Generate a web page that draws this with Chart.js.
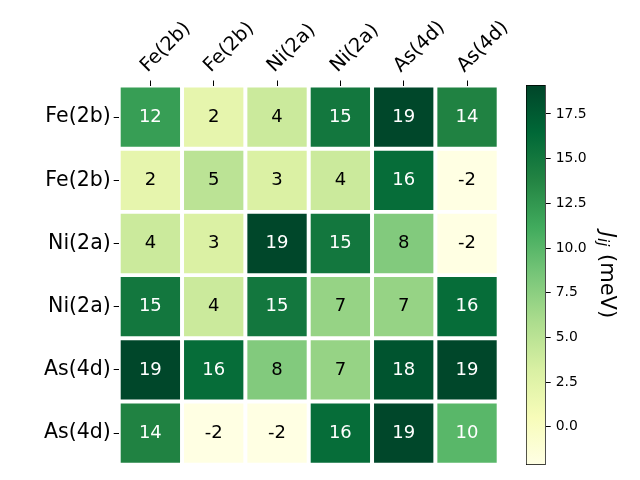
<!DOCTYPE html>
<html>
<head>
<meta charset="utf-8">
<script src="https://cdn.jsdelivr.net/npm/chart.js@4"></script>
<style>
  html, body { margin: 0; padding: 0; background: #fff; }
  #wrap { position: relative; width: 640px; height: 480px; overflow: hidden; }
  #heat { position: absolute; left: 0; top: 0; }
  #cbar { position: absolute; left: 500px; top: 0; }
</style>
</head>
<body>
<div id="wrap">
  <canvas id="heat" width="640" height="480"></canvas>
  <canvas id="cbar" width="140" height="480"></canvas>
</div>
<script>
// site labels (columns left->right, rows top->bottom)
const xLabels = ["Fe(2b)", "Fe(2b)", "Ni(2a)", "Ni(2a)", "As(4d)", "As(4d)"];
const yLabels = ["Fe(2b)", "Fe(2b)", "Ni(2a)", "Ni(2a)", "As(4d)", "As(4d)"];

// exchange couplings J_ij in meV, one array per row
const row0 = [12, 2, 4, 15, 19, 14];
const row1 = [2, 5, 3, 4, 16, -2];
const row2 = [4, 3, 19, 15, 8, -2];
const row3 = [15, 4, 15, 7, 7, 16];
const row4 = [19, 16, 8, 7, 18, 19];
const row5 = [14, -2, -2, 16, 19, 10];
const jRows = [row0, row1, row2, row3, row4, row5];

// colour scale limits and colorbar ticks
const vmin = -2.14;
const vmax = 19.12;
const cbTicks = [0, 2.5, 5, 7.5, 10, 12.5, 15, 17.5];

const YLGN = ["#ffffe5", "#f7fcb9", "#d9f0a3", "#addd8e", "#78c679",
              "#41ab5d", "#238443", "#006837", "#004529"];
const FONT = "'DejaVu Sans', sans-serif";

function hexRgb(h) {
  return [1, 3, 5].map((i) => parseInt(h.slice(i, i + 2), 16));
}

function ylgn(v) {
  let t = (v - vmin) / (vmax - vmin);
  t = Math.max(0, Math.min(1, t));
  const pos = t * (YLGN.length - 1);
  const i = Math.min(YLGN.length - 2, Math.floor(pos));
  const f = pos - i;
  const a = hexRgb(YLGN[i]);
  const b = hexRgb(YLGN[i + 1]);
  const c = a.map((x, k) => Math.round(x + (b[k] - x) * f));
  return `rgb(${c[0]},${c[1]},${c[2]})`;
}

const cells = [];
jRows.forEach((row, r) => {
  row.forEach((v, c) => cells.push({ x: c, y: r, v }));
});

// square cell side = one category step minus the white gap
function cellRadius(ctx) {
  const xs = ctx.chart.scales.x;
  if (!xs) return 20;
  const step = Math.abs(xs.getPixelForValue(1) - xs.getPixelForValue(0));
  return (step - 4) / (2 * Math.SQRT1_2);
}

const cellLabels = {
  id: "cellLabels",
  afterDatasetsDraw(chart) {
    const ctx = chart.ctx;
    const meta = chart.getDatasetMeta(0);
    ctx.save();
    ctx.font = `18px ${FONT}`;
    ctx.textAlign = "center";
    ctx.textBaseline = "middle";
    meta.data.forEach((el, i) => {
      const v = cells[i].v;
      const t = (v - vmin) / (vmax - vmin);
      ctx.fillStyle = t > 0.5 ? "#fff" : "#000";
      ctx.fillText(String(Math.round(v)), el.x, el.y);
    });
    ctx.restore();
  },
};

const fixedTicks = (vals) => (scale) => {
  scale.ticks = vals.map((v) => ({ value: v }));
};

new Chart(document.getElementById("heat"), {
  type: "scatter",
  data: {
    datasets: [{
      data: cells,
      pointStyle: "rect",
      pointRadius: cellRadius,
      pointHoverRadius: cellRadius,
      pointBorderWidth: 0,
      pointBackgroundColor: (ctx) => ylgn(ctx.raw ? ctx.raw.v : 0),
    }],
  },
  options: {
    responsive: false,
    animation: false,
    events: [],
    layout: { padding: { left: 0, right: 141.3, top: 0, bottom: 15 } },
    plugins: { legend: { display: false }, tooltip: { enabled: false } },
    scales: {
      x: {
        type: "linear",
        position: "top",
        min: -0.5,
        max: 5.5,
        afterBuildTicks: fixedTicks([0, 1, 2, 3, 4, 5]),
        afterFit(s) { s.height = 85.5; },
        border: { display: false },
        grid: { drawOnChartArea: false, drawTicks: true, tickLength: 5, tickColor: "#000", tickWidth: 1 },
        ticks: {
          autoSkip: false,
          minRotation: 45,
          maxRotation: 45,
          padding: 3,
          labelOffset: 10,
          color: "#000",
          font: { family: FONT, size: 19.4 },
          callback: (v) => xLabels[v] ?? "",
        },
      },
      y: {
        type: "linear",
        reverse: true,
        min: -0.5,
        max: 5.5,
        afterBuildTicks: fixedTicks([0, 1, 2, 3, 4, 5]),
        afterFit(s) { s.width = 118.7; },
        border: { display: false },
        grid: { drawOnChartArea: false, drawTicks: true, tickLength: 5, tickColor: "#000", tickWidth: 1 },
        ticks: {
          autoSkip: false,
          padding: 3,
          color: "#000",
          font: { family: FONT, size: 20.5 },
          callback: (v) => yLabels[v] ?? "",
        },
      },
    },
  },
  plugins: [cellLabels],
});

// colorbar label: italic J with subscript ij, then (meV)
const cbarTitle = {
  id: "cbarTitle",
  afterDraw(chart) {
    const ctx = chart.ctx;
    const area = chart.chartArea;
    const cx = area.right + 61;
    const cy = (area.top + area.bottom) / 2;
    const big = `21px ${FONT}`;
    const bigIt = `oblique 21px ${FONT}`;
    const small = `oblique 15px ${FONT}`;
    ctx.save();
    ctx.font = bigIt; const wJ = ctx.measureText("J").width;
    ctx.font = small; const wS = ctx.measureText("ij").width;
    ctx.font = big; const wM = ctx.measureText(" (meV)").width;
    const total = wJ + wS + 1 + wM;
    ctx.translate(cx, cy);
    ctx.rotate(Math.PI / 2);
    ctx.fillStyle = "#000";
    ctx.textBaseline = "middle";
    ctx.textAlign = "left";
    let x = -total / 2;
    ctx.font = bigIt; ctx.fillText("J", x, 0); x += wJ;
    ctx.font = small; ctx.fillText("ij", x, 5); x += wS + 1;
    ctx.font = big; ctx.fillText(" (meV)", x, 0);
    ctx.restore();
  },
};

new Chart(document.getElementById("cbar"), {
  type: "bar",
  data: {
    labels: [""],
    datasets: [{
      data: [[vmin, vmax]],
      barPercentage: 1,
      categoryPercentage: 1,
      borderColor: "#000",
      borderWidth: 1,
      borderSkipped: false,
      backgroundColor: (ctx) => {
        const chart = ctx.chart;
        const ys = chart.scales.y;
        if (!chart.chartArea || !ys) return YLGN[4];
        const g = chart.ctx.createLinearGradient(0, ys.getPixelForValue(vmin), 0, ys.getPixelForValue(vmax));
        YLGN.forEach((c, i) => g.addColorStop(i / (YLGN.length - 1), c));
        return g;
      },
    }],
  },
  options: {
    responsive: false,
    animation: false,
    events: [],
    layout: { padding: { left: 26, right: 0, top: 85, bottom: 15 } },
    plugins: { legend: { display: false }, tooltip: { enabled: false } },
    scales: {
      x: { display: false },
      y: {
        position: "right",
        min: vmin,
        max: vmax,
        afterBuildTicks: fixedTicks(cbTicks),
        afterFit(s) { s.width = 94.3; },
        border: { display: false },
        grid: { drawOnChartArea: false, drawTicks: true, tickLength: 5, tickColor: "#000", tickWidth: 1 },
        ticks: {
          padding: 5,
          color: "#000",
          font: { family: FONT, size: 13.9 },
          callback: (v) => Number(v).toFixed(1),
        },
      },
    },
  },
  plugins: [cbarTitle],
});
</script>
</body>
</html>
